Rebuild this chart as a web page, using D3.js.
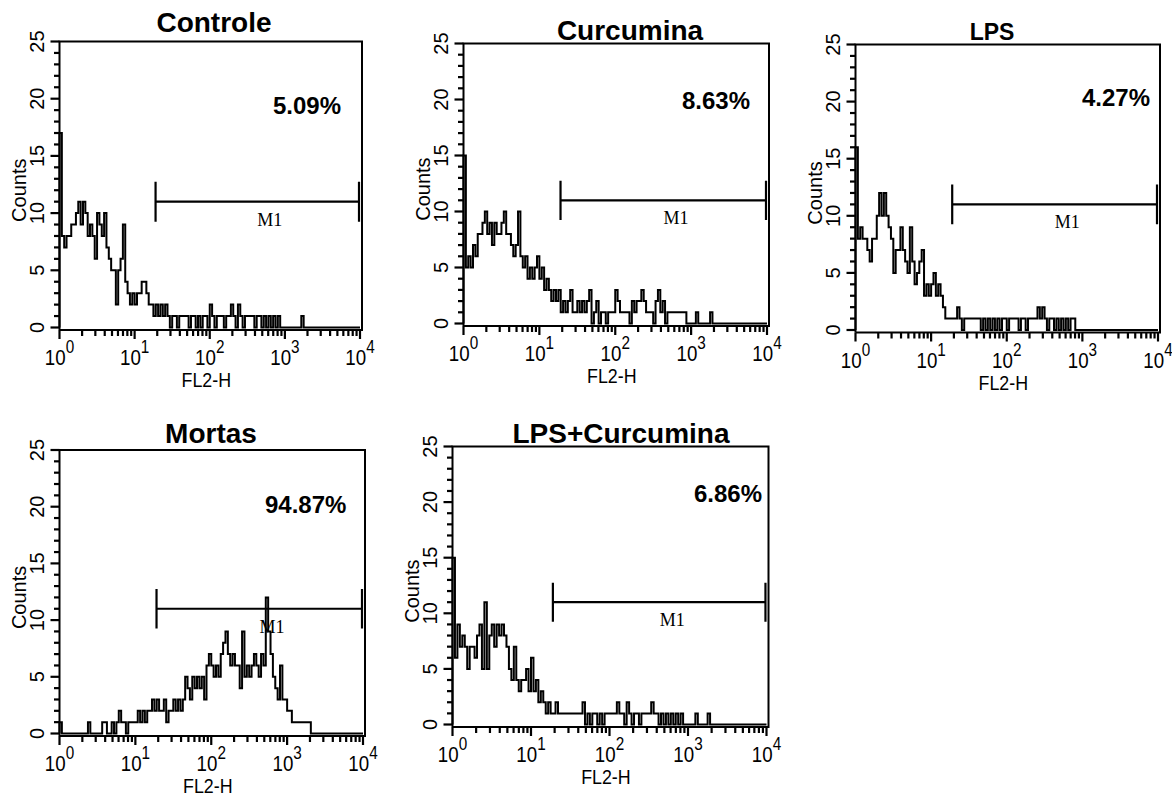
<!DOCTYPE html>
<html>
<head>
<meta charset="utf-8">
<script src="https://cdn.jsdelivr.net/npm/d3@7"></script>
<style>
body { margin: 0; background: #fff; }
</style>
</head>
<body>
<div id="chart-area"></div>
<script>
var titles = ["Controle", "Curcumina", "LPS", "Mortas", "LPS+Curcumina"];
var percents = ["5.09%", "8.63%", "4.27%", "94.87%", "6.86%"];

// counts per channel, 32 channels per decade, 10^0 .. 10^4
var controle = [
  17,8,7,8,8,9,9,10,11,9,11,10,8,9,8,6,10,9,8,10,7,6,5,5,2,5,6,9,4,3,2,3,
  2,3,3,4,4,3,2,2,1,2,1,2,1,2,1,0,1,1,0,1,1,1,1,0,1,1,0,1,0,1,1,0,
  2,1,0,1,1,1,0,1,1,2,1,0,2,1,0,1,1,1,1,0,1,1,0,1,0,1,0,1,0,1,0,0,
  0,0,0,0,0,0,0,1,0,0,0,0,0,0,0,0,0,0,0,0,0,0,0,0,0,0,0,0,0,0,0,0
];
var curcumina = [
  15,5,6,5,7,6,8,8,9,10,8,9,7,9,8,8,9,10,8,8,7,6,7,10,6,5,6,4,5,4,5,6,
  4,5,3,4,3,2,3,2,3,1,2,1,2,3,1,1,2,1,2,1,2,3,0,1,2,0,1,1,0,1,1,1,
  3,2,1,1,1,1,0,2,1,2,2,3,2,1,1,1,0,2,3,1,2,0,1,1,1,1,1,1,1,1,0,0,
  0,0,1,0,0,0,0,0,1,0,0,0,0,0,0,0,0,0,0,0,0,0,0,0,0,0,0,0,0,0,0,0
];
var lps = [
  16,8,9,8,8,7,6,8,8,10,12,10,12,10,9,8,5,7,7,9,7,6,5,9,6,4,5,6,7,3,4,3,
  4,5,3,4,3,2,1,1,1,1,1,2,1,0,1,1,1,1,1,1,1,0,1,0,1,0,1,0,1,0,1,1,
  0,1,1,1,1,0,1,1,0,1,1,1,1,2,1,2,1,0,1,1,0,1,0,1,0,1,0,1,1,0,0,0,
  0,0,0,0,0,0,0,0,0,0,0,0,0,0,0,0,0,0,0,0,0,0,0,0,0,0,0,0,0,0,0,0
];
var mortas = [
  1,0,0,0,0,0,0,0,0,0,0,0,1,0,0,0,0,0,1,1,0,0,1,0,1,2,1,1,0,1,1,1,
  1,2,1,2,1,2,2,3,2,3,2,2,3,1,2,2,3,2,3,2,3,5,4,3,5,4,5,4,5,3,6,7,
  6,5,6,5,7,8,9,7,6,7,6,6,4,9,5,6,5,6,7,6,5,7,6,12,9,7,5,4,3,6,3,3,
  2,2,1,1,1,1,1,1,1,1,0,0,0,0,0,0,0,0,0,0,0,0,0,0,0,0,0,0,0,0,0,0
];
var lpsCurcumina = [
  15,6,9,7,8,7,5,7,7,6,8,9,5,11,5,8,9,7,9,8,9,8,7,5,4,7,4,3,4,4,5,3,
  6,3,4,2,3,2,1,2,1,1,2,1,1,1,1,1,1,1,1,1,1,2,0,1,0,1,1,0,1,0,1,1,
  1,1,1,2,1,1,0,2,1,0,1,1,0,1,1,1,1,2,1,1,0,1,0,1,0,1,0,1,0,1,0,0,
  0,0,0,1,0,0,0,0,1,0,0,0,0,0,0,0,0,0,0,0,0,0,0,0,0,0,0,0,0,0,0,0
];
var series = [controle, curcumina, lps, mortas, lpsCurcumina];

var decadeExps = [0, 1, 2, 3, 4];
var yTicks = [0, 5, 10, 15, 20, 25];
var markerRange = [19, 9700];
var markerLevel = 11;
var markerLabelAt = 630;

var binsPerDecade = 32;

// where each plot sits on the page
var panels = [
  {left: 59.5, right: 362, top: 41.5, zero: 327.5, tx: 214, ty: 32, ts: 28, px: 273, py: 114},
  {left: 463.5, right: 769, top: 43.5, zero: 323.5, tx: 630, ty: 40, ts: 28, px: 682, py: 109},
  {left: 855.5, right: 1160, top: 44.5, zero: 330, tx: 992, ty: 40, ts: 23, px: 1082, py: 106},
  {left: 59.5, right: 365, top: 450, zero: 733.5, tx: 211, ty: 443, ts: 28, px: 265, py: 513},
  {left: 452.5, right: 768.5, top: 446.5, zero: 724.5, tx: 621, ty: 443, ts: 28, px: 694, py: 502}
];

var svg = d3.select("#chart-area").append("svg")
    .attr("width", 1172)
    .attr("height", 797)
    .style("background", "#fff");

var sans = "'Liberation Sans', Arial, Helvetica, sans-serif";

panels.forEach(function(p, i) {
  var g = svg.append("g");
  var counts = series[i];

  var x = d3.scaleLog().domain([1, 1e4]).range([p.left, p.right - 2]);
  var y = d3.scaleLinear().domain([0, 25]).range([p.zero, p.top]);
  var axisY = p.zero + 2.5;

  // frame
  g.append("path")
    .attr("d", "M" + p.left + "," + axisY + "V" + p.top + "H" + p.right + "V" + axisY + "H" + p.left)
    .attr("fill", "none")
    .attr("stroke", "#000")
    .attr("stroke-width", 2);

  // y ticks: every count, longer every 5
  g.selectAll(".ytick")
    .data(d3.range(0, 26))
    .enter().append("line")
      .attr("class", "ytick")
      .attr("x1", p.left)
      .attr("x2", function(d) { return p.left - (d % 5 === 0 ? 9 : 5.5); })
      .attr("y1", function(d) { return y(d); })
      .attr("y2", function(d) { return y(d); })
      .attr("stroke", "#000")
      .attr("stroke-width", 2.2);

  // x ticks: decades and 2..9 in between
  var xTickVals = [];
  decadeExps.forEach(function(k) {
    xTickVals.push({v: Math.pow(10, k), major: true});
    if (k < 4) d3.range(2, 10).forEach(function(m) { xTickVals.push({v: m * Math.pow(10, k), major: false}); });
  });
  g.selectAll(".xtick")
    .data(xTickVals)
    .enter().append("line")
      .attr("class", "xtick")
      .attr("x1", function(d) { return x(d.v); })
      .attr("x2", function(d) { return x(d.v); })
      .attr("y1", axisY)
      .attr("y2", function(d) { return axisY + (d.major ? 9 : 6); })
      .attr("stroke", "#000")
      .attr("stroke-width", 2.2);

  // y labels, rotated
  g.selectAll(".ylab")
    .data(yTicks)
    .enter().append("text")
      .attr("class", "ylab")
      .attr("transform", function(d) { return "translate(" + (p.left - 16) + "," + y(d) + ") rotate(-90)"; })
      .attr("text-anchor", "middle")
      .attr("font-family", sans)
      .attr("font-size", "20px")
      .text(function(d) { return d; });

  g.append("text")
    .attr("transform", "translate(" + (p.left - 34) + "," + y(12) + ") rotate(-90)")
    .attr("text-anchor", "middle")
    .attr("font-family", sans)
    .attr("font-size", "20px")
    .text("Counts");

  // x labels 10^k
  var xl = g.selectAll(".xlab")
    .data(decadeExps)
    .enter().append("text")
      .attr("class", "xlab")
      .attr("transform", function(k) { return "translate(" + x(Math.pow(10, k)) + "," + (axisY + 35) + ") scale(0.85,1)"; })
      .attr("text-anchor", "middle")
      .attr("font-family", sans)
      .attr("font-size", "22px");
  xl.append("tspan").text("10");
  xl.append("tspan")
    .attr("dy", -12)
    .attr("font-size", "18px")
    .text(function(k) { return k; });

  g.append("text")
    .attr("transform", "translate(" + x(90) + "," + (axisY + 57) + ") scale(0.85,1)")
    .attr("text-anchor", "middle")
    .attr("font-family", sans)
    .attr("font-size", "21px")
    .text("FL2-H");

  // histogram
  var pts = [[1, 0]];
  counts.forEach(function(c, j) { pts.push([Math.pow(10, j / binsPerDecade), c]); });
  pts.push([1e4, counts[counts.length - 1]]);

  var line = d3.line()
    .x(function(d) { return x(d[0]); })
    .y(function(d) { return y(d[1]); })
    .curve(d3.curveStepAfter);

  g.append("path")
    .attr("d", line(pts))
    .attr("fill", "none")
    .attr("stroke", "#000")
    .attr("stroke-width", 2);

  // M1 marker
  var mx0 = x(markerRange[0]), mx1 = x(markerRange[1]), my = y(markerLevel);
  var half = y(0) - y(1.75);
  g.append("path")
    .attr("d", "M" + mx0 + "," + my + "H" + mx1 +
      "M" + mx0 + "," + (my - half) + "V" + (my + half) +
      "M" + mx1 + "," + (my - half) + "V" + (my + half))
    .attr("fill", "none")
    .attr("stroke", "#000")
    .attr("stroke-width", 2.2);

  g.append("text")
    .attr("x", x(markerLabelAt))
    .attr("y", y(8.9))
    .attr("text-anchor", "middle")
    .attr("font-family", "'Liberation Serif', 'Times New Roman', serif")
    .attr("font-size", "18px")
    .text("M1");

  // title and percentage
  g.append("text")
    .attr("x", p.tx)
    .attr("y", p.ty)
    .attr("text-anchor", "middle")
    .attr("font-family", sans)
    .attr("font-weight", "bold")
    .attr("font-size", p.ts + "px")
    .text(titles[i]);

  g.append("text")
    .attr("x", p.px)
    .attr("y", p.py)
    .attr("font-family", sans)
    .attr("font-weight", "bold")
    .attr("font-size", "24px")
    .text(percents[i]);
});
</script>
</body>
</html>
